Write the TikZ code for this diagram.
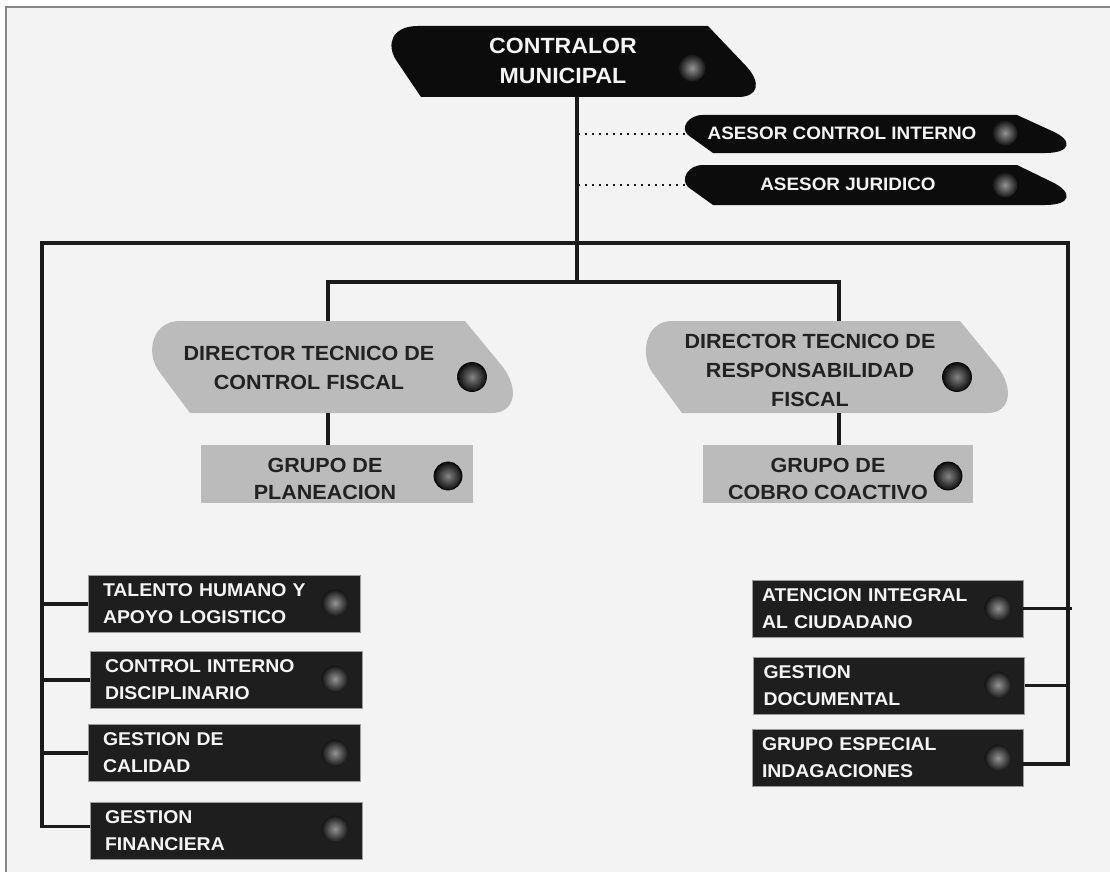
\documentclass[tikz,border=0pt]{standalone}
\usepackage{fontspec}
\newfontfamily\labfont{Liberation Sans}[FakeStretch=1.05]
\usetikzlibrary{calc}
\definecolor{bg}{HTML}{F3F3F3}
\definecolor{framecol}{HTML}{858585}
\definecolor{ink}{HTML}{1A1A1A}
\definecolor{darkfill}{HTML}{0C0C0C}
\definecolor{boxfill}{HTML}{1E1E1E}
\definecolor{boxedge}{HTML}{9C9C9C}
\definecolor{grayfill}{HTML}{BBBBBB}
\definecolor{txtdark}{HTML}{222222}
\definecolor{txtlight}{HTML}{F4F4F4}
\begin{document}
\begin{tikzpicture}[x=1pt,y=-1pt,
  conn/.style={draw=ink,line width=3.3pt},
  dotline/.style={draw=ink,line width=2.2pt,dash pattern=on 2.2pt off 4.8pt},
  shapebox/.style={rectangle,draw=none,fill=none,inner sep=0pt,outer sep=0pt},
  darkbox/.style={rectangle,fill=boxfill,draw=boxedge,line width=0.9pt,
    inner xsep=15pt,inner ysep=0pt,text width=242pt,align=left,
    minimum height=57pt,outer sep=0pt,text=txtlight,font=\fbox},
  graybox/.style={rectangle,fill=grayfill,draw=none,minimum width=272pt,
    minimum height=58pt,inner sep=0pt,outer sep=0pt},
  lighttext/.style={text=txtlight,align=center,inner sep=0pt},
  darktext/.style={text=txtdark,align=center,inner sep=0pt},
  darkshape/.style={fill=darkfill},
  grayshape/.style={fill=grayfill},
  dotdark/.style={inner color=black!42,outer color=black!92},
  dotgray/.style={inner color=black!48,outer color=black!95,draw=black,line width=0.8pt}
]
\newcommand{\fcontr}{\labfont\bfseries\fontsize{22}{30}\selectfont}
\newcommand{\fases}{\labfont\bfseries\fontsize{18}{22}\selectfont}
\newcommand{\fdir}{\labfont\bfseries\fontsize{20.5}{29}\selectfont}
\newcommand{\fgrp}{\labfont\bfseries\fontsize{20.5}{27}\selectfont}
\renewcommand{\fbox}{\labfont\bfseries\fontsize{18.5}{27}\selectfont}

\useasboundingbox (0,0) rectangle (1110,872);
\fill[white] (0,0) rectangle (1110,872);
\fill[bg] (5,6) rectangle (1110,872);
\draw[framecol,line width=2pt] (5.8,872) -- (5.8,6.6) -- (1110,6.6);

% ---- blade shapes ----
\path[darkshape] (421,97) -- (396,60) .. controls (386,44) and (392,26) .. (418,26)
  -- (708,26) -- (746,66) .. controls (762,83) and (758,97) .. (738,97) -- cycle;
\path[darkshape] (713,153) -- (688,135) .. controls (680,128) and (688,115) .. (703,115)
  -- (1017,115) -- (1052,131) .. controls (1073,140) and (1072,153) .. (1045,153) -- cycle;
\path[darkshape] (713,205) -- (688,187) .. controls (680,179) and (688,165) .. (703,165)
  -- (1017,165) -- (1052,182) .. controls (1073,192) and (1072,205) .. (1045,205) -- cycle;
\path[grayshape] (190,413) -- (158,370) .. controls (146,352) and (152,321) .. (180,321)
  -- (465,321) -- (502,366) .. controls (520,389) and (515,413) .. (492,413) -- cycle;
\path[grayshape] (682,413) -- (652,372) .. controls (640,355) and (645,321) .. (672,321)
  -- (960,321) -- (997,366) .. controls (1015,389) and (1010,413) .. (988,413) -- cycle;

% ---- shape nodes ----
\node[shapebox,minimum width=356pt,minimum height=71pt] (c) at (577,61.5) {};
\node[shapebox,minimum width=385pt,minimum height=38pt] (a1) at (877.5,134) {};
\node[shapebox,minimum width=385pt,minimum height=40pt] (a2) at (877.5,185) {};
\node[shapebox,minimum width=368pt,minimum height=92pt] (d1) at (328,367) {};
\node[shapebox,minimum width=336pt,minimum height=92pt] (d2) at (839,367) {};
\node[graybox] (g1) at (337,474) {};
\node[graybox,minimum width=270pt] (g2) at (838,474) {};

% ---- texts of shapes ----
\node[lighttext,font=\fcontr] (c-t) at (563,60.5) {CONTRALOR\\MUNICIPAL};
\node[lighttext,font=\fases] (a1-t) at (842,133) {ASESOR CONTROL INTERNO};
\node[lighttext,font=\fases] (a2-t) at (848,184.5) {ASESOR JURIDICO};
\node[darktext,font=\fdir] (d1-t) at (309,367.5) {DIRECTOR TECNICO DE\\CONTROL FISCAL};
\node[darktext,font=\fdir] (d2-t) at (810,370) {DIRECTOR TECNICO DE\\RESPONSABILIDAD\\FISCAL};
\node[darktext,font=\fgrp] (g1-t) at (325,478.5) {GRUPO DE\\PLANEACION};
\node[darktext,font=\fgrp] (g2-t) at (828,478.5) {GRUPO DE\\COBRO COACTIVO};

% ---- dark boxes ----
\node[darkbox,minimum width=272pt] (t1) at (224,604) {TALENTO HUMANO Y\\APOYO LOGISTICO};
\node[darkbox,minimum width=272pt] (t2) at (226,680) {CONTROL INTERNO\\DISCIPLINARIO};
\node[darkbox,minimum width=272pt] (t3) at (224,753) {GESTION DE\\CALIDAD};
\node[darkbox,minimum width=272pt] (t4) at (226,830.5) {GESTION\\FINANCIERA};
\node[darkbox,inner xsep=10pt,text width=251pt] (r1) at (887.5,608.5) {ATENCION INTEGRAL\\AL CIUDADANO};
\node[darkbox,inner xsep=10pt,text width=251pt] (r2) at (889,685.5) {GESTION\\DOCUMENTAL};
\node[darkbox,inner xsep=10pt,text width=251pt] (r3) at (887.5,758) {GRUPO ESPECIAL\\INDAGACIONES};

% ---- dots ----
\shade[dotdark] (692,68) circle[radius=13.5];
\shade[dotdark] (1005,133) circle[radius=12.5];
\shade[dotdark] (1005,185) circle[radius=12.5];
\shadedraw[dotgray] (472,377) circle[radius=14.5];
\shadedraw[dotgray] (957,377) circle[radius=14.5];
\shadedraw[dotgray] (448,476) circle[radius=14];
\shadedraw[dotgray] (948,476) circle[radius=14];
\foreach \yy in {603,679,753,829} {\shade[dotdark] (335,\yy) circle[radius=13.5];}
\foreach \yy in {608,685,758} {\shade[dotdark] (998,\yy) circle[radius=13.5];}

% ---- connectors ----
\coordinate (j1) at (577,282);
\coordinate (L0) at (42,243);
\coordinate (R0) at (1068,243);
\draw[conn] (c.south) -- (j1);
\draw[conn] (d1.north) |- (j1) -| (d2.north);
\draw[conn] (d1.south) -- (d1.south |- g1.north);
\draw[conn] (d2.south) -- (d2.south |- g2.north);
\draw[conn] ([yshift=4pt]t4.west) -| (L0) -- (R0) |- ([yshift=-6pt]r3.east);
\draw[conn] (t1.west) -- (t1.west -| L0);
\draw[conn] (t2.west) -- (t2.west -| L0);
\draw[conn] (t3.west) -- (t3.west -| L0);
\draw[conn] (r1.east) -- ([xshift=4pt]r1.east -| R0);
\draw[conn] (r2.east) -- (r2.east -| R0);
\draw[dotline] (a1.west) -- (a1.west -| c.south);
\draw[dotline] (a2.west) -- (a2.west -| c.south);
\end{tikzpicture}
\end{document}
